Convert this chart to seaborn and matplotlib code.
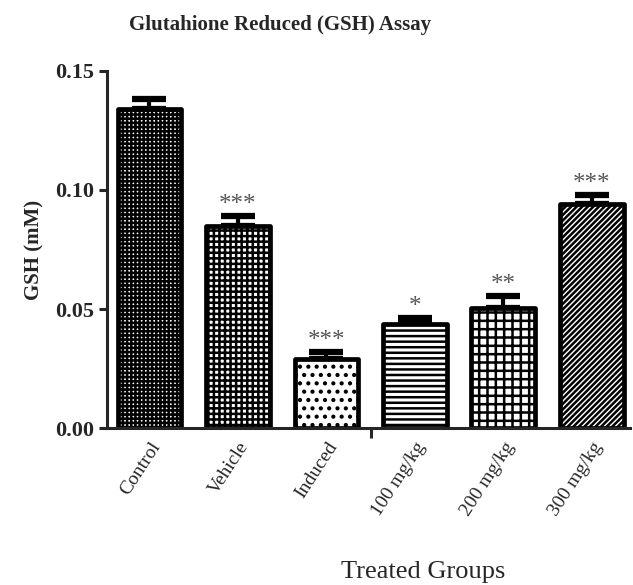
import numpy as np
import pandas as pd
import matplotlib
matplotlib.use("Agg")
import matplotlib.pyplot as plt
import seaborn as sns

groups = ["Control", "Vehicle", "Induced", "100 mg/kg", "200 mg/kg", "300 mg/kg"]
gsh_mean = [0.1338, 0.0847, 0.0291, 0.0438, 0.0506, 0.0940]
gsh_sem = [0.0044, 0.0043, 0.0030, 0.0025, 0.0047, 0.0037]
stars = ["", "***", "***", "*", "**", "***"]
hatches = ["++++", "+++", "..", "---", "++", "//////"]

df = pd.DataFrame({"Group": groups, "GSH": gsh_mean})

sns.set_style("ticks")
plt.rcParams["font.family"] = ["Liberation Serif", "DejaVu Serif"]
plt.rcParams["hatch.linewidth"] = 1.8

fig = plt.figure(figsize=(6.33, 5.85), dpi=100)
ax = fig.add_axes([0.169, 0.268, 0.826, 0.611])

sns.barplot(data=df, x="Group", y="GSH", color="white", width=0.72,
            edgecolor="black", linewidth=3.4, ax=ax, zorder=2)

for bar, h in zip(ax.patches, hatches):
    bar.set_hatch(h)
    bar.set_joinstyle("round")

x = np.arange(len(groups))
ax.errorbar(x, gsh_mean, yerr=[np.zeros(len(groups)), gsh_sem], fmt="none",
            ecolor="black", elinewidth=3, capsize=12, capthick=4.5, zorder=1)

for xi, m, s, st in zip(x, gsh_mean, gsh_sem, stars):
    if st:
        ax.annotate(st, (xi, m + s), xytext=(0, 0), textcoords="offset points",
                    ha="center", va="bottom", fontsize=18, color="#555555")

ax.set_xlim(-0.48, 5.43)
ax.set_ylim(0, 0.15)
ax.set_yticks([0.00, 0.05, 0.10, 0.15])
ax.set_yticklabels(["0.00", "0.05", "0.10", "0.15"], fontweight="bold", fontsize=16)
ax.set_xticks(x)
ax.set_xticklabels(groups, rotation=57, ha="right", rotation_mode="anchor", fontsize=14)
ax.set_xticks([2.5], minor=True)
ax.tick_params(axis="x", which="major", length=0, pad=8)
ax.tick_params(axis="x", which="minor", length=7, width=2.2, direction="out")
ax.tick_params(axis="y", length=6, width=2.2, direction="out", pad=3)
ax.set_xlabel("")
ax.set_ylabel("GSH (mM)", fontweight="bold", fontsize=15, labelpad=8)
for side in ["left", "bottom"]:
    ax.spines[side].set_linewidth(2.2)
sns.despine(ax=ax)

fig.text(280 / 633, 1 - 25 / 585, "Glutahione Reduced (GSH) Assay",
         ha="center", va="center", fontweight="bold", fontsize=15)
fig.text(423 / 633, 1 - 572 / 585, "Treated Groups", ha="center", va="center",
         fontsize=19)

fig.savefig("out.png", dpi=100)
